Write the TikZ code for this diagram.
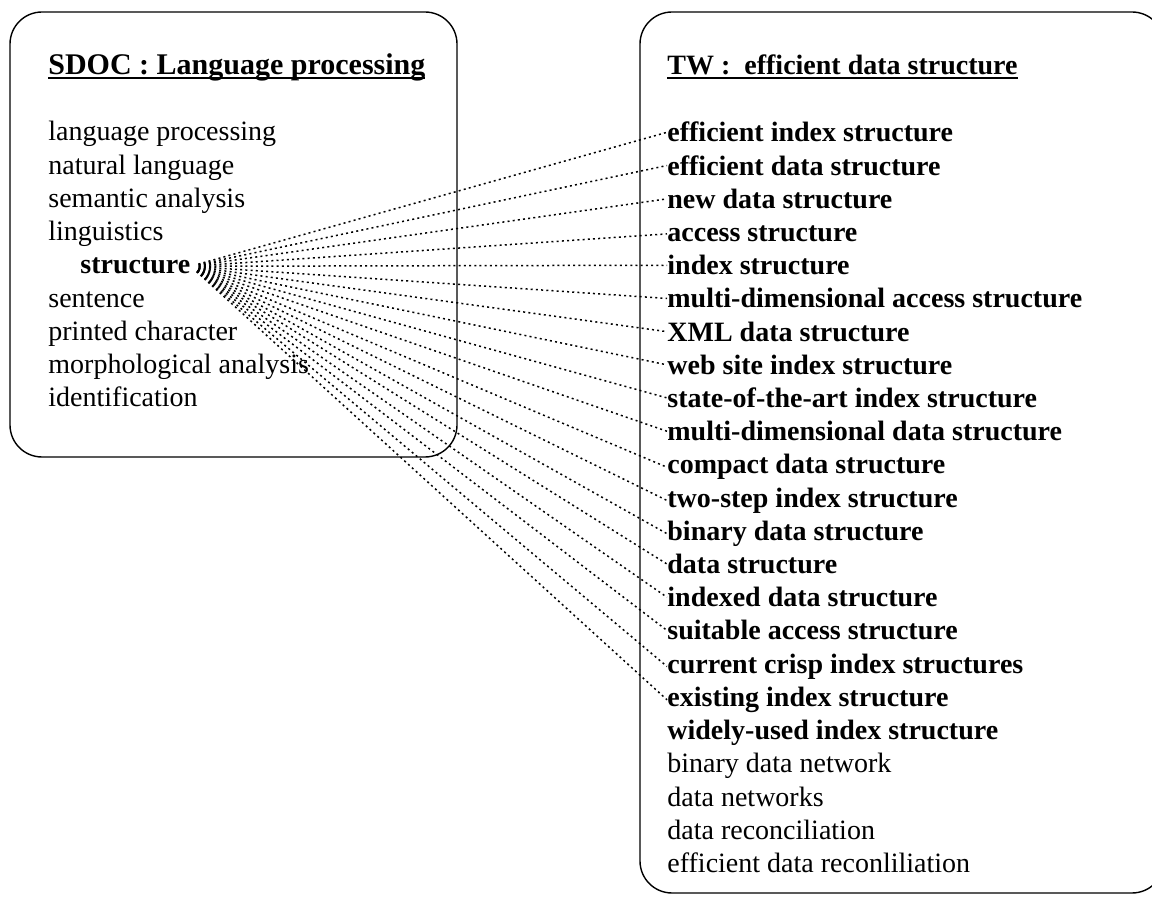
\documentclass[tikz,border=0pt]{standalone}
\usepackage{fontspec}
\setmainfont{Liberation Serif}
\newcommand{\headrule}[1]{\setbox0\hbox{#1}\rlap{\rule[-2pt]{\wd0}{0.8pt}}\box0}
\begin{document}
\begin{tikzpicture}[x=0.5pt,y=-0.5pt,
	every node/.style={inner sep=0pt,anchor=base west,font=\fontsize{14}{16}\selectfont},
	hot/.style={font=\fontsize{14}{16}\selectfont\bfseries},
	link/.style={line width=0.75pt,dash pattern=on 1pt off 1.6pt,shorten <=4pt},
	frame/.style={line width=0.7pt,rounded corners=16pt}]
	\path[use as bounding box] (0,0) rectangle (1152,897);
	\clip (0,0) rectangle (1152,897);
	\draw[frame] (10,12) rectangle (457,457);
	\draw[frame] (640,12) rectangle (1164,893);
	% left box
	\node[hot,font=\fontsize{15}{17}\selectfont\bfseries] (sdoc) at (48,75) {\headrule{SDOC : Language processing}};
	\foreach \t [count=\i] in {language processing,natural language,semantic analysis,linguistics}
		\node (sd\i) at (48,107.75+33.25*\i) {\t};
	\node[hot] (st) at (80,274) {structure};
	\foreach \t [count=\i from 5] in {sentence,printed character,morphological analysis,identification}
		\node (sd\i) at (48,141+33.25*\i) {\t};
	% right box
	\node[hot] (tw) at (667,75) {\headrule{TW :\ \ efficient data structure}};
	\foreach \t [count=\i] in {efficient index structure,efficient data structure,new data structure,
		access structure,index structure,multi-dimensional access structure,XML data structure,
		web site index structure,state-of-the-art index structure,multi-dimensional data structure,
		compact data structure,two-step index structure,binary data structure,data structure,
		indexed data structure,suitable access structure,current crisp index structures,
		existing index structure,widely-used index structure}
		\node[hot] (tw\i) at (667,108.8+33.2*\i) {\t};
	\foreach \t [count=\i from 20] in {binary data network,data networks,data reconciliation,
		efficient data reconliliation}
		\node (tw\i) at (667,108.8+33.2*\i) {\t};
	% links
	\foreach \i in {1,...,18}
		\draw[link] (st.east) -- (tw\i.west);
\end{tikzpicture}
\end{document}
